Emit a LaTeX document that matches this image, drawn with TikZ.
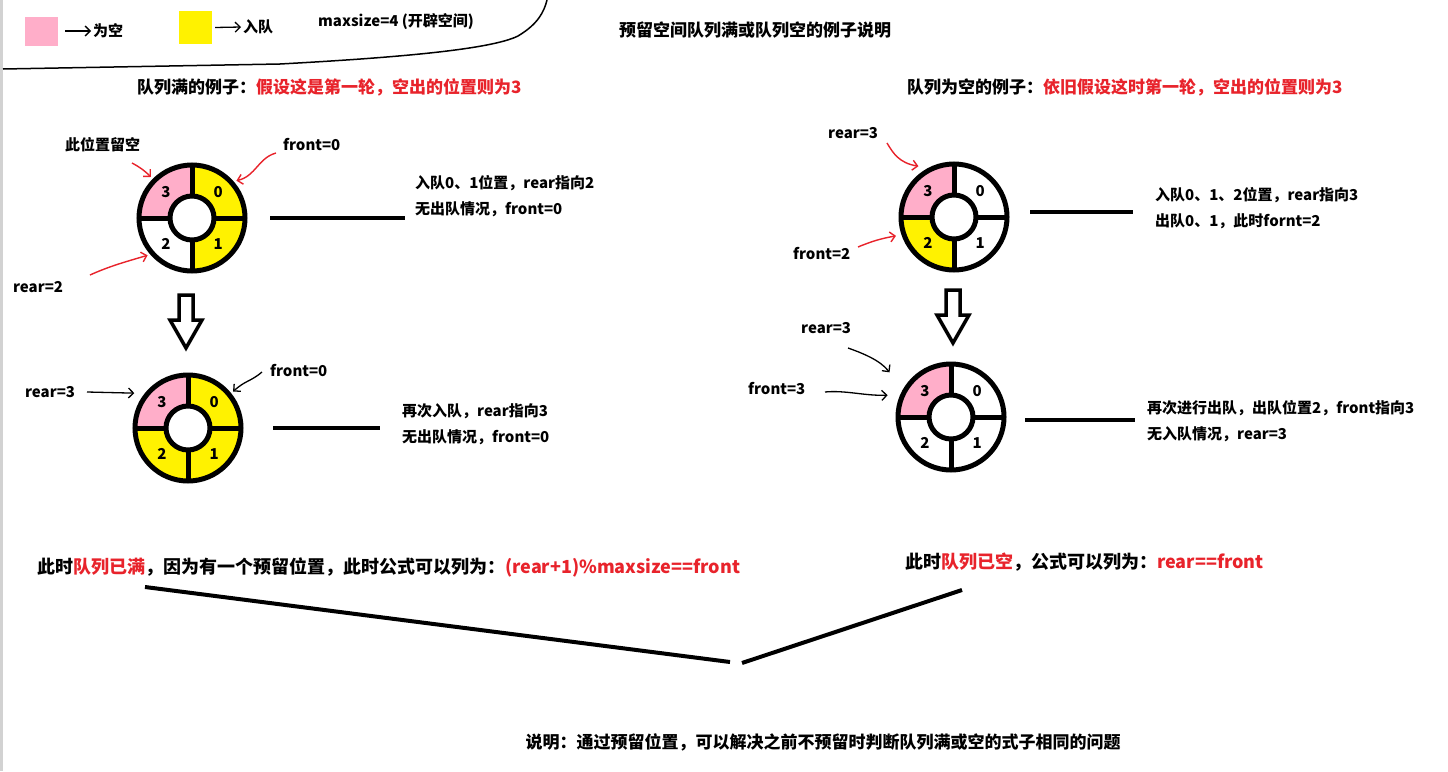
\documentclass[tikz,border=0pt]{standalone}
\usepackage{fontspec}
\setmainfont{Noto Sans CJK SC}
\usetikzlibrary{arrows.meta,calc}
\definecolor{qpink}{HTML}{FFAEC9}
\definecolor{qyellow}{HTML}{FFF200}
\definecolor{qred}{HTML}{E8232B}

% ring of four slots: name, centre, fills of slots 0,1,2,3
\newcommand{\ringfour}[6]{%
  \coordinate (#1) at (#2);
  \foreach \c/\a/\n in {#3/-90/0,#4/0/1,#5/90/2,#6/180/3}{
    \fill[\c] ($(#1)+(\a:22)$) arc[start angle=\a, delta angle=90, radius=22]
      -- ($(#1)+({\a+90}:53)$) arc[start angle={\a+90}, delta angle=-90, radius=53] -- cycle;
    \node[digit] (#1-\n) at ($(#1)+({\a+45}:37)$) {\n};
  }
  \draw[ring] (#1) circle[radius=53] (#1) circle[radius=22];
  \foreach \a in {0,90,180,270}
    \draw[ring] ($(#1)+(\a:22)$) -- ($(#1)+(\a:53)$);
}
\newcommand{\hollowdown}[2]{%
  \draw[hollow] (#1-7,#2) -- (#1+7,#2) -- (#1+7,#2+25) -- (#1+16,#2+25)
    -- (#1,#2+53) -- (#1-16,#2+25) -- (#1-7,#2+25) -- cycle;
}

\begin{document}
\begin{tikzpicture}[x=1pt,y=-1pt,
  txt/.style={anchor=west, inner sep=0pt, align=left, font=\bfseries\fontsize{15pt}{26pt}\selectfont},
  head/.style={anchor=west, inner sep=0pt, font=\bfseries\fontsize{17pt}{20pt}\selectfont},
  big/.style={anchor=west, inner sep=0pt, font=\bfseries\fontsize{18pt}{22pt}\selectfont},
  digit/.style={inner sep=0pt, font=\bfseries\fontsize{15pt}{18pt}\selectfont},
  ring/.style={line width=5pt},
  hollow/.style={line width=3.5pt, fill=white, line join=miter},
  lead/.style={line width=4pt},
  redptr/.style={draw=qred, line width=1.4pt, -{Straight Barb[length=5pt,width=10pt]}},
  blkptr/.style={draw=black, line width=1.3pt, -{Straight Barb[length=5pt,width=10pt]}},
  keybox/.style={minimum width=33pt, minimum height=29pt, inner sep=0pt}
]
\fill[white] (0,0) rectangle (1448,771);
\useasboundingbox (0,0) rectangle (1448,771);
\draw[gray!35, line width=2.5pt] (1.5,0) -- (1.5,771);

\node[keybox, fill=qpink] (pinkkey) at (41.5,31) {};
\node[txt] (emptytxt) at (93,31) {为空};
\draw[blkptr] ([xshift=7pt]pinkkey.east) -- ([xshift=-2pt]emptytxt.west);
\node[keybox, fill=qyellow, minimum height=33pt] (yellowkey) at (195.5,27.5) {};
\node[txt] (enqtxt) at (243,27) {入队};
\draw[blkptr] ([xshift=3pt]yellowkey.east) -- ([xshift=-2pt]enqtxt.west);
\node[txt] (maxsize) at (318,22) {maxsize=4 (开辟空间)};
\draw[line width=1.5pt] (3,69) -- (280,64) .. controls (390,58) and (490,50) .. (518,36)
  .. controls (538,24) and (544,12) .. (547,0);

\node[head, anchor=center] (title) at (755,30) {预留空间队列满或队列空的例子说明};
\node[head] (headA) at (137,87) {队列满的例子：\textcolor{qred}{假设这是第一轮，空出的位置则为3}};
\node[head] (headC) at (907,87) {队列为空的例子：\textcolor{qred}{依旧假设这时第一轮，空出的位置则为3}};

\ringfour{rA}{192,218}{qyellow}{qyellow}{white}{qpink}
\node[txt] (keepA) at (65,145) {此位置留空};
\node[txt] (frontA) at (283,145) {front=0};
\node[txt] (rearA) at (13,287) {rear=2};
\coordinate (keepAtail) at (132,163);
\coordinate (frontAtail) at (276,153);
\coordinate (rearAtail) at (90,275);
\draw[redptr] (keepAtail) to[bend left=8] ($(rA)+(225:58)$);
\draw[redptr] (frontAtail) .. controls (258,158) and (256,176) .. ($(rA)+(-40:58)$);
\draw[redptr] (rearAtail) .. controls (110,266) and (125,262) .. ($(rA)+(140:58)$);
\draw[lead] ($(rA)+(78,0)$) -- +(135,0);
\node[txt] (infoA) at (415,196) {入队0、1位置，rear指向2\\无出队情况，front=0};

\hollowdown{186}{295}

\ringfour{rB}{188,428}{qyellow}{qyellow}{qyellow}{qpink}
\node[txt] (rearB) at (25,392) {rear=3};
\node[txt] (frontB) at (270,371) {front=0};
\coordinate (rearBtail) at (87,392);
\coordinate (frontBtail) at (262,372);
\draw[blkptr] (rearBtail) -- ($(rB)+(213:64)$);
\draw[blkptr] (frontBtail) .. controls (250,382) and (246,380) .. ($(rB)+(-39:58)$);
\draw[lead] ($(rB)+(85,0)$) -- +(107,0);
\node[txt] (infoB) at (402,424) {再次入队，rear指向3\\无出队情况，front=0};

\ringfour{rC}{954,217}{white}{white}{qyellow}{qpink}
\node[txt] (rearC) at (828,133) {rear=3};
\node[txt] (frontC) at (793,254) {front=2};
\coordinate (rearCtail) at (887,143);
\coordinate (frontCtail) at (858,247);
\draw[redptr] (rearCtail) .. controls (893,153) and (899,163) .. ($(rC)+(235:62)$);
\draw[redptr] (frontCtail) to[bend left=6] ($(rC)+(162:61)$);
\draw[lead] ($(rC)+(76,-5)$) -- +(103,0);
\node[txt] (infoC) at (1155,208) {入队0、1、2位置，rear指向3\\出队0、1，此时fornt=2};

\hollowdown{953}{290}

\ringfour{rD}{951,417}{white}{white}{white}{qpink}
\node[txt] (rearD) at (801,328) {rear=3};
\node[txt] (frontD) at (748,389) {front=3};
\coordinate (rearDtail) at (848,348);
\coordinate (frontDtail) at (825,392);
\draw[blkptr] (rearDtail) .. controls (862,353) and (880,360) .. ($(rD)+(216:76)$);
\draw[blkptr] (frontDtail) .. controls (845,390) and (865,396) .. ($(rD)+(199:67)$);
\draw[lead] ($(rD)+(74,3)$) -- +(110,0);
\node[txt] (infoD) at (1147,421) {再次进行出队，出队位置2，front指向3\\无入队情况，rear=3};

\node[big] (sumA) at (37,567) {此时\textcolor{qred}{队列已满}，因为有一个预留位置，此时公式可以列为：\textcolor{qred}{(rear+1)\%maxsize==front}};
\node[big] (sumC) at (905,562) {此时\textcolor{qred}{队列已空}，公式可以列为：\textcolor{qred}{rear==front}};
\coordinate (vleft) at (145,587);
\coordinate (vmidA) at (730,662);
\coordinate (vmidC) at (742,663);
\coordinate (vright) at (962,590);
\draw[lead] (vleft) -- (vmidA);
\draw[lead] (vmidC) -- (vright);
\node[head, anchor=center] (note) at (823,742) {说明：通过预留位置，可以解决之前不预留时判断队列满或空的式子相同的问题};
\end{tikzpicture}
\end{document}
